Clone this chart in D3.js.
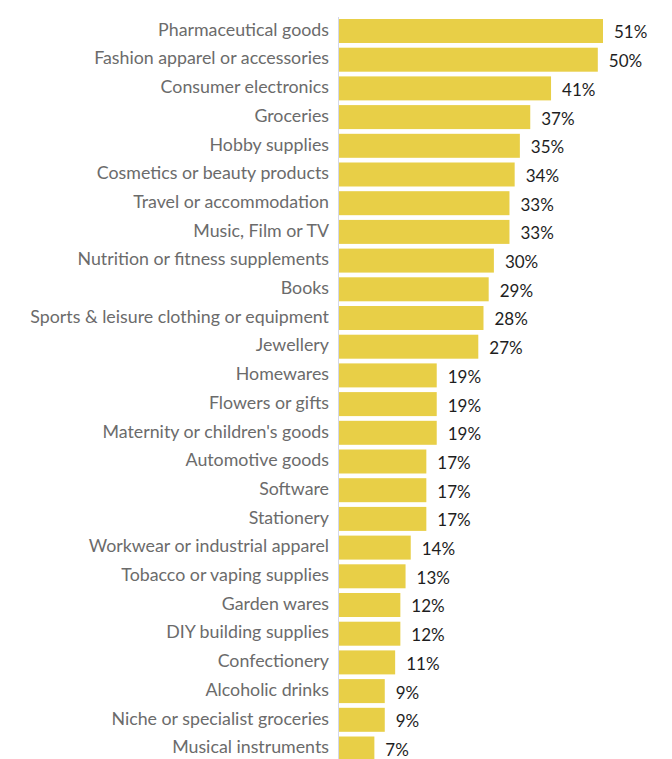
<!DOCTYPE html>
<html>
<head>
<meta charset="utf-8">
<script src="https://cdn.jsdelivr.net/npm/d3@7"></script>
<style>
  html, body { margin: 0; padding: 0; background: #fff; }
  svg { display: block; }
</style>
</head>
<body>
<svg id="chart" width="672" height="759"></svg>
<script>
const categories = [
  "Pharmaceutical goods",
  "Fashion apparel or accessories",
  "Consumer electronics",
  "Groceries",
  "Hobby supplies",
  "Cosmetics or beauty products",
  "Travel or accommodation",
  "Music, Film or TV",
  "Nutrition or fitness supplements",
  "Books",
  "Sports & leisure clothing or equipment",
  "Jewellery",
  "Homewares",
  "Flowers or gifts",
  "Maternity or children's goods",
  "Automotive goods",
  "Software",
  "Stationery",
  "Workwear or industrial apparel",
  "Tobacco or vaping supplies",
  "Garden wares",
  "DIY building supplies",
  "Confectionery",
  "Alcoholic drinks",
  "Niche or specialist groceries",
  "Musical instruments"
];
const values = [51, 50, 41, 37, 35, 34, 33, 33, 30, 29, 28, 27, 19, 19, 19, 17, 17, 17, 14, 13, 12, 12, 11, 9, 9, 7];

const svg = d3.select("#chart");
const left = 338;
const font = "Lato, 'Source Sans Pro', 'Noto Sans', sans-serif";

const x = d3.scaleLinear().domain([0, 51]).range([left, 603]);
const y = d3.scaleBand()
  .domain(categories)
  .range([19, 760.5])
  .paddingInner(0.164)
  .paddingOuter(0);

const rows = categories.map((c, i) => ({ c, v: values[i] }));

// bars
svg.append("g").selectAll("rect")
  .data(rows)
  .join("rect")
  .attr("x", x(0))
  .attr("y", d => y(d.c))
  .attr("width", d => x(d.v) - x(0))
  .attr("height", y.bandwidth())
  .attr("fill", "#e8cf47");

// baseline
svg.append("line")
  .attr("x1", left + 0.5).attr("x2", left + 0.5)
  .attr("y1", 17).attr("y2", 759)
  .attr("stroke", "#d3d7ea")
  .attr("stroke-width", 1);

// category labels
svg.append("g").selectAll("text")
  .data(rows)
  .join("text")
  .attr("x", left - 9)
  .attr("y", d => y(d.c) + y.bandwidth() / 2 - 1.5)
  .attr("dy", "0.35em")
  .attr("text-anchor", "end")
  .attr("font-family", font)
  .attr("font-size", 17.8)
  .attr("fill", "#6b6b6b")
  .text(d => d.c);

// value labels
svg.append("g").selectAll("text")
  .data(rows)
  .join("text")
  .attr("x", d => x(d.v) + 11)
  .attr("y", d => y(d.c) + y.bandwidth() / 2 + 1.5)
  .attr("dy", "0.35em")
  .attr("font-family", font)
  .attr("font-size", 17)
  .attr("fill", "#1e1e1e")
  .text(d => d.v + "%");
</script>
</body>
</html>
